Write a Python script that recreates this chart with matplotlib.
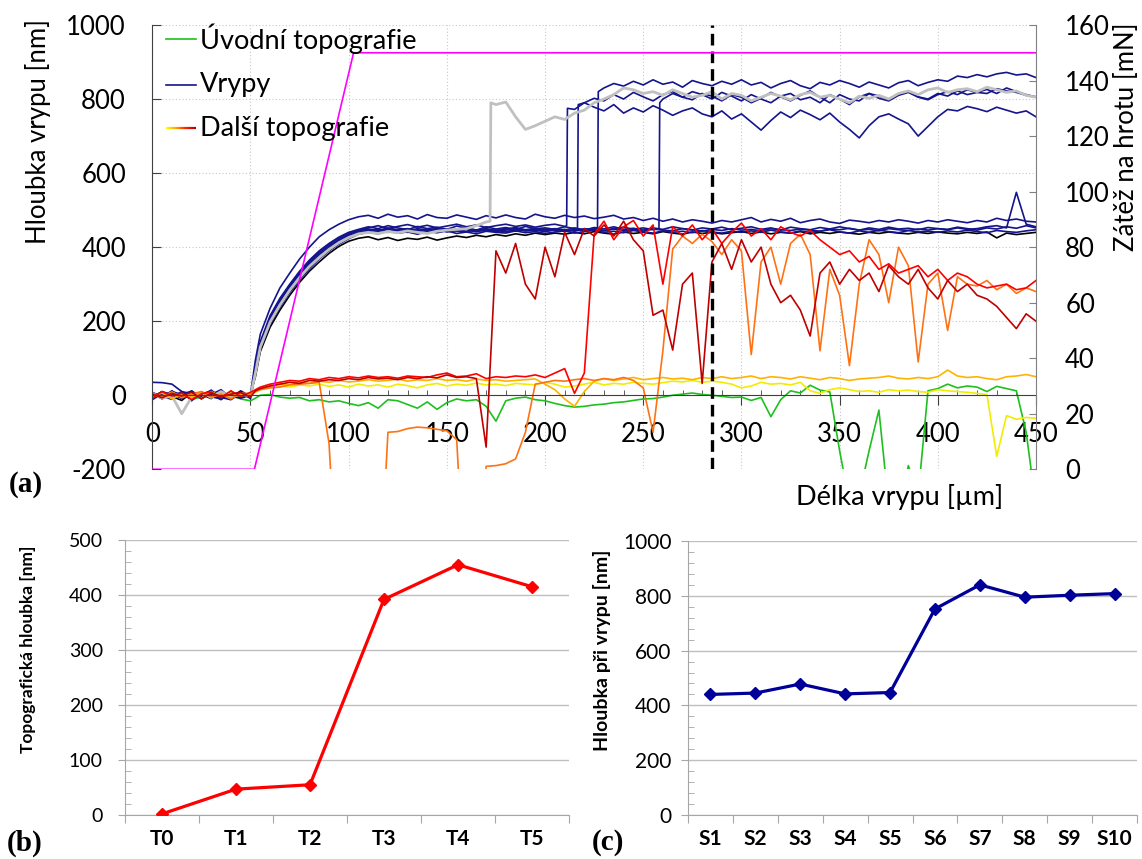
import numpy as np
import matplotlib
matplotlib.use("Agg")
import matplotlib.pyplot as plt
from matplotlib.collections import LineCollection
from matplotlib.colors import LinearSegmentedColormap
from matplotlib.ticker import MultipleLocator

plt.rcParams['font.family'] = ['Lato', 'DejaVu Sans']
plt.rcParams['axes.unicode_minus'] = False

# ---------------- DATA: panel (a) ----------------
# sample positions along the scratch [um]
X_GRID = np.r_[0, 5, 10, 15, 20, 25, 30, 35, 40, 45, 50, 52.5, np.arange(55, 451, 5)]

# tip load [mN]
load_x = [0, 52, 102.5, 450]
load_mN = [0, 0, 150, 150]
marker_x = 285  # dashed vertical line

# scratches that stay shallow
vryp_B1 = [35, 34, 30, 10, 4, -8, 5, -10, 9, -5, 2,
           95,
           165, 235, 290, 330, 368, 400, 428, 447, 462, 474, 482,
           486, 478, 489, 481, 485, 476, 488, 480, 478, 487, 481, 475, 485, 479, 487, 480, 476, 489, 482,
           478, 486, 480, 484, 477, 481, 486, 476, 480, 472, 478, 470, 476, 468, 474, 470, 465, 472, 468, 474,
           480, 468, 475, 470, 478, 466, 472, 476, 468, 464, 473, 470, 466, 472, 468, 474, 470, 465, 472, 468,
           474, 470, 466, 472, 468, 478, 472, 476, 470, 468]
vryp_B2 = [5, -10, 8, -3, 12, -6, 2, 15, -8, 6, -2,
           70,
           145, 215, 262, 300, 335, 365, 390, 410, 427, 440, 448,
           455, 450, 458, 452, 447, 456, 450, 454, 448, 457, 451, 446, 455, 449, 453, 447, 456, 450, 452,
           448, 455, 450, 446, 453, 449, 455, 448, 451, 446, 452, 448, 455, 450, 446, 452, 449, 454, 447, 451,
           455, 448, 452, 446, 454, 450, 447, 453, 449, 455, 450, 446, 452, 448, 454, 449, 451, 447, 453, 450,
           448, 454, 450, 446, 452, 449, 455, 451, 458, 452]
vryp_B3 = [-12, 4, -6, 10, -15, 8, -4, -10, 5, -8, 0,
           55,
           125, 192, 238, 278, 312, 342, 368, 390, 408, 423, 435,
           440, 436, 443, 438, 441, 435, 442, 439, 444, 437, 441, 436, 443, 440, 438, 444, 439, 442, 437,
           441, 444, 438, 442, 446, 440, 443, 439, 445, 441, 438, 444, 440, 443, 439, 445, 441, 438, 443, 440,
           444, 440, 446, 441, 438, 444, 440, 443, 447, 441, 438, 444, 440, 446, 442, 439, 445, 441, 443, 440,
           444, 441, 446, 442, 439, 445, 442, 440, 444, 447]
vryp_B4 = [8, -5, 12, -9, 4, -2, 14, -6, -12, 10, -4,
           60,
           130, 200, 245, 285, 320, 350, 374, 396, 413, 428, 438,
           444, 448, 441, 446, 450, 443, 447, 442, 449, 444, 447, 441, 448, 445, 450, 443, 447, 444, 449,
           445, 448, 443, 450, 446, 444, 449, 445, 447, 443, 449, 446, 444, 450, 447, 443, 448, 445, 450, 446,
           448, 444, 450, 447, 445, 449, 446, 443, 449, 447, 451, 446, 448, 444, 450, 447, 445, 449, 446, 450,
           447, 452, 448, 450, 455, 458, 452, 548, 462, 455]
vryp_black = [-6, 10, -3, -14, 7, 2, -9, 12, -4, -7, 3,
              50,
              118, 184, 230, 270, 305, 335, 360, 383, 402, 416, 424,
              428, 420, 426, 418, 424, 421, 427, 419, 425, 430, 426, 432, 428, 434, 430, 436, 432, 438, 434,
              438, 435, 440, 436, 442, 438, 435, 441, 437, 440, 436, 442, 438, 435, 441, 437, 440, 436, 439, 442,
              437, 441, 436, 440, 438, 442, 436, 440, 437, 441, 438, 435, 440, 437, 441, 438, 436, 440, 437, 441,
              438, 436, 440, 437, 441, 425, 438, 434, 437, 440]

# scratches that break through (jump = position, depth before, depth after)
vryp_J1 = [4, -8, 10, 2, -6, 9, -3, 6, -11, 3, -6,
           65,
           140, 210, 258, 296, 332, 362, 388, 408, 425, 438, 446,
           452, 458, 450, 456, 461, 454, 459, 452, 457, 462, 455, 460, 453, 458, 462, 456, 460, 454, 459,
           462, 456, 772, 790, 778, 768, 785, 762, 776, 765, 782, 770, 756, 768, 776, 760, 752, 768, 746, 760,
           738, 716, 742, 765, 750, 770, 758, 744, 762, 738, 718, 695, 728, 752, 760, 746, 733, 700, 726, 752,
           772, 768, 780, 774, 766, 778, 770, 762, 768, 752]
jump_J1 = (211, 458, 775)
vryp_J2 = [-2, 7, -9, 4, 10, -5, 3, -12, 7, -4, 5,
           58,
           128, 196, 242, 282, 316, 346, 371, 393, 411, 426, 437,
           442, 447, 440, 445, 449, 443, 446, 440, 448, 444, 441, 447, 443, 446, 441, 448, 444, 446, 442,
           447, 443, 446, 790, 802, 795, 812, 800, 818, 806, 795, 812, 820, 805, 798, 815, 808, 795, 812, 805,
           790, 802, 818, 806, 795, 810, 822, 805, 790, 812, 800, 795, 815, 808, 798, 812, 820, 806, 800, 815,
           808, 822, 812, 818, 826, 815, 830, 820, 812, 806]
jump_J2 = (216.5, 446, 785)
vryp_J3 = [6, -3, -11, 8, -5, 4, 11, -7, 2, 8, -9,
           62,
           135, 205, 250, 290, 325, 355, 380, 400, 418, 432, 441,
           446, 442, 449, 444, 440, 447, 443, 448, 441, 445, 449, 443, 447, 442, 446, 450, 444, 448, 443,
           447, 442, 448, 444, 447, 830, 842, 835, 848, 838, 852, 840, 846, 832, 850, 842, 836, 848, 840, 852,
           838, 845, 830, 842, 850, 836, 828, 845, 838, 850, 842, 832, 846, 838, 830, 844, 850, 836, 845, 852,
           848, 862, 858, 866, 860, 868, 872, 865, 868, 858]
jump_J3 = (226.7, 446, 820)
vryp_J4 = [-4, 9, 3, -8, 6, -10, 7, 1, -6, 12, -3,
           68,
           140, 208, 255, 292, 328, 358, 384, 404, 421, 435, 444,
           449, 445, 452, 447, 443, 450, 446, 451, 444, 448, 452, 446, 450, 445, 449, 453, 447, 451, 446,
           450, 446, 452, 447, 451, 445, 450, 454, 448, 452, 447, 800, 815, 805, 820, 812, 800, 818, 808, 795,
           812, 800, 790, 808, 815, 798, 805, 790, 812, 800, 785, 806, 815, 802, 795, 810, 818, 805, 798, 812,
           820, 812, 825, 818, 815, 828, 822, 818, 810, 805]
jump_J4 = (258, 450, 790)
vryp_grey = [5, -8, -2, -50, -5, 8, -6, 10, -4, 3, -2,
             60,
             130, 198, 244, 284, 318, 348, 372, 394, 412, 426, 436,
             440, 437, 442, 439, 444, 440, 437, 443, 446, 448, 450, 458, 468, 785, 792, 752, 718, 728, 740,
             752, 745, 762, 770, 790, 800, 812, 830, 825, 815, 820, 810, 825, 815, 805, 810, 820, 800, 815, 810,
             795, 805, 815, 808, 798, 812, 818, 805, 810, 800, 790, 808, 802, 810, 800, 815, 822, 812, 825, 830,
             818, 825, 828, 820, 832, 825, 818, 822, 810, 805]
jump_grey = (172, 470, 790)

# initial topography
topo_initial = [-5, 3, -8, 6, -12, -4, 8, -6, 2, -10, -15,
                -8,
                0, 2, -5, -8, -6, -15, -12, -18, -15, -22, -28,
                -20, -35, -12, -15, -25, -35, -18, -38, -20, -10, -15, -12, -30, -70, -15, -8, -5, -12, -15,
                -22, -28, -32, -30, -26, -24, -20, -18, -14, -10, -9, -5, 0, 3, 6, 2, 0, -3, -6, -5,
                -14, -6, -58, -12, 12, 6, 27, 14, 9, -150, -290, -270, -150, -40, -300, -310, -190, -270, 12, 18,
                30, 20, 25, 22, 10, 24, 18, 12, -100, -300]

# further topographies (yellow -> dark red)
topo_1 = [0, -5, 8, -3, 5, -8, 10, -4, 6, -2, 5,
          8,
          15, 20, 25, 22, 28, 25, 30, 24, 28, 22, 30,
          25, 28, 22, 30, 26, 20, 28, 32, 25, 30, 27, 33, 28, 30, 26, 32, 30, 28, 35,
          30, 22, 25, 30, 35, 28, 32, 30, 35, 32, 30, 34, 38, 36, 40, 35, 38, 35, 30, 20,
          25, 35, 30, 32, 28, 35, 12, 5, 15, 20, 15, 10, 12, 8, 15, 12, 14, 10, 8, 15,
          12, 10, 8, 5, 2, -165, -55, -65, -60, -62]
topo_2 = [-3, 6, -10, 4, -6, 8, -2, 5, -8, 3, 0,
          12,
          18, 25, 30, 28, 35, 32, 38, 35, 40, 36, 38,
          42, 38, 40, 44, 38, 42, 40, 45, 40, 42, 38, 44, 40, 42, 38, 40, 42, 44, 30,
          15, -10, -30, 10, 38, 45, 40, 44, 48, 42, 45, 48, 44, 46, 42, 48, 45, 50, 45, 48,
          52, 45, 50, 48, 44, 50, 46, 42, 48, 45, 40, 44, 46, 48, 52, 46, 44, 48, 45, 50,
          68, 52, 48, 50, 45, 42, 50, 52, 56, 50]
topo_3 = [5, -4, 9, -7, 3, 10, -5, 2, -10, 6, 4,
          10,
          15, 20, 22, 28, 30, 32, 35, -130, -600, -600, -600,
          -600, -600, -100, -98, -90, -86, -88, -92, -96, -120, -600, -600, -192, -190, -185, -172, -100, 30, 35,
          40, 38, 42, 45, 40, 45, 42, 48, 40, 20, -100, 120, 395, 430, 410, 435, 415, 380, 420, 390,
          110, 360, 400, 300, 410, 435, 380, 120, 340, 270, 80, 300, 420, 380, 250, 400, 350, 90, 300, 330,
          175, 320, 300, 295, 310, 285, 300, 275, 290, 280]
topo_4 = [-8, 10, -2, 6, -12, 4, 9, -6, 12, -3, 8,
          15,
          22, 30, 35, 40, 38, 45, 42, 48, 45, 50, 47,
          52, 48, 50, 46, 52, 50, 48, 55, 60, 50, 52, 58, 45, 50, 48, 52, 50, 55, 48,
          60, 72, 5, 60, 435, 470, 420, 455, 472, 430, 460, 300, 455, 430, 460, 420, 450, 410, 440, 465,
          430, 450, 420, 455, 440, 430, 445, 420, 400, 380, 390, 360, 375, 340, 355, 330, 340, 350, 320, 340,
          310, 330, 320, 300, 290, 295, 300, 285, 290, 310]
topo_5 = [3, -7, 5, -2, 8, -9, 6, -4, 3, 7, -5,
          12,
          18, 25, 30, 35, 32, 40, 38, 42, 40, 45, 42,
          48, 44, 46, 42, 48, 45, 50, 47, 55, 48, 50, 45, -140, 390, 330, 410, 300, 260, 400,
          320, 440, 380, 450, 430, 460, 430, 470, 420, 390, 216, 230, 122, 300, 330, 32, 360, 410, 340, 420,
          360, 400, 300, 250, 270, 230, 160, 330, 360, 300, 340, 310, 330, 280, 350, 320, 300, 340, 290, 260,
          310, 280, 300, 270, 260, 240, 210, 180, 220, 200]

# ---------------- DATA: panels (b), (c) ----------------
t_labels = ['T0', 'T1', 'T2', 'T3', 'T4', 'T5']
t_depth = [2, 47, 55, 392, 455, 415]
s_labels = ['S1', 'S2', 'S3', 'S4', 'S5', 'S6', 'S7', 'S8', 'S9', 'S10']
s_depth = [440, 445, 478, 442, 447, 752, 840, 795, 802, 808]

# ---------------- helpers ----------------
def series(y, jump=None):
    x = np.asarray(X_GRID, float)
    y = np.asarray(y, float)
    assert len(x) == len(y), (len(x), len(y))
    if jump is None:
        return x, y
    jx, y0, y1 = jump
    before = x < jx
    after = x > jx + 0.4
    return (np.concatenate([x[before], [jx, jx + 0.4], x[after]]),
            np.concatenate([y[before], [y0, y1], y[after]]))

W, H = 1142, 859
fig = plt.figure(figsize=(W / 100, H / 100), dpi=100)

def px_rect(l, t, r, b):
    return [l / W, 1 - b / H, (r - l) / W, (b - t) / H]

# ---------------- panel (a) ----------------
ax = fig.add_axes(px_rect(152.3, 25, 1036, 469.3))
ax.set_xlim(0, 450)
ax.set_ylim(-200, 1000)

NAVY = '#14148C'
GREEN = '#1EC01E'
warm = ['#F2EC00', '#FFB300', '#FF7214', '#FF0000', '#C00000']

ax.plot(*series(topo_initial), color=GREEN, lw=1.2, zorder=2)
ax.plot(*series(vryp_black), color='black', lw=1.2, zorder=2)
for y, j in [(vryp_B1, None), (vryp_B2, None), (vryp_B3, None), (vryp_B4, None),
             (vryp_J1, jump_J1), (vryp_J2, jump_J2), (vryp_J3, jump_J3), (vryp_J4, jump_J4)]:
    ax.plot(*series(y, j), color=NAVY, lw=1.2, zorder=2)
ax.plot(*series(vryp_grey, jump_grey), color='#C0C0C0', lw=2.0, zorder=2)
for y, c in zip([topo_1, topo_2, topo_3, topo_4, topo_5], warm):
    ax.plot(*series(y), color=c, lw=1.2, zorder=2)

ax.axvline(marker_x, color='black', lw=2.4, dashes=(3.5, 1.8), zorder=4)

for s in ['top', 'right']:
    ax.spines[s].set_visible(False)
ax.spines['bottom'].set_position(('data', 0))
ax.spines['bottom'].set_color('#404040')
ax.spines['left'].set_color('#404040')
ax.set_xticks(np.arange(0, 451, 50))
ax.xaxis.set_minor_locator(MultipleLocator(10))
ax.tick_params(axis='x', which='major', direction='out', length=7, color='#404040',
               labelsize=18.5, pad=12)
ax.tick_params(axis='x', which='minor', direction='in', length=3.5, color='#404040')
ax.set_yticks(np.arange(-200, 1001, 200))
ax.tick_params(axis='y', direction='in', length=6.5, color='#404040', labelsize=18.5, pad=19)
ax.grid(True, which='major', color='#C8C8C8', lw=0.8, linestyle=(0, (1, 2)))

ax2 = ax.twinx()
ax2.set_ylim(0, 160)
ax2.plot(load_x, load_mN, color='#FF00FF', lw=1.2, zorder=3)
for s in ['top', 'bottom', 'left']:
    ax2.spines[s].set_visible(False)
ax2.spines['right'].set_color('#808080')
ax2.set_yticks(np.arange(0, 161, 20))
ax2.tick_params(axis='y', direction='in', length=5, color='#808080', labelsize=18.5, pad=21)

# legend (drawn manually to get the gradient sample)
lx0, lx1, tx = 0.0155, 0.0495, 0.054
ly = [0.968, 0.865, 0.7675]
ax2.plot([lx0, lx1], [ly[0]] * 2, color=GREEN, lw=1.2, transform=ax2.transAxes)
ax2.plot([lx0, lx1], [ly[1]] * 2, color=NAVY, lw=1.2, transform=ax2.transAxes)
cmap = LinearSegmentedColormap.from_list('warm', ['#FFFF00', '#FFA500', '#FF2000', '#B00000'])
gx = np.linspace(lx0, lx1, 40)
segs = [[(gx[i], ly[2]), (gx[i + 1], ly[2])] for i in range(len(gx) - 1)]
lc = LineCollection(segs, colors=cmap(np.linspace(0, 1, len(segs))), lw=1.6,
                    transform=ax2.transAxes)
ax2.add_collection(lc)
for yy, t in zip(ly, ['Úvodní topografie', 'Vrypy', 'Další topografie']):
    ax2.text(tx, yy, t, transform=ax2.transAxes, fontsize=19.5, va='center', ha='left')

fig.text(38 / W, 1 - 131 / H, 'Hloubka vrypu [nm]', rotation=90, fontsize=18.5,
         ha='center', va='center')
fig.text(1127 / W, 1 - 137 / H, 'Zátěž na hrotu [mN]', rotation=90, fontsize=18.5,
         ha='center', va='center')
fig.text(900 / W, 1 - 497 / H, 'Délka vrypu [µm]', fontsize=19.5, ha='center', va='center')

serif = dict(family='Liberation Serif', fontweight='bold', fontsize=21, ha='center', va='center')
fig.text(26 / W, 1 - 484 / H, '(a)', **serif)
fig.text(25 / W, 1 - 843 / H, '(b)', **serif)
fig.text(608 / W, 1 - 843 / H, '(c)', **serif)

# ---------------- panels (b) and (c) ----------------
def cat_panel(axc, labels, values, color, ymax, ystep, yminor, ylab_size, ypad):
    n = len(labels)
    xs = np.arange(n)
    axc.plot(xs, values, color=color, lw=2.3, marker='D', ms=6.5, mfc=color, mec=color,
             zorder=3)
    axc.set_xlim(-0.5, n - 0.5)
    axc.set_ylim(0, ymax)
    axc.set_yticks(np.arange(0, ymax + 1, ystep))
    axc.yaxis.set_minor_locator(MultipleLocator(yminor))
    axc.set_xticks(np.arange(-0.5, n, 1.0))
    axc.set_xticklabels([])
    axc.set_xticks(xs, minor=True)
    axc.set_xticklabels(labels, minor=True, fontweight='bold', fontsize=15)
    axc.tick_params(axis='x', which='major', direction='out', length=6, color='#A6A6A6')
    axc.tick_params(axis='x', which='minor', length=0, pad=10)
    axc.tick_params(axis='y', which='major', direction='out', length=5, color='#A6A6A6',
                    labelsize=ylab_size, pad=ypad)
    axc.tick_params(axis='y', which='minor', direction='in', length=4, color='#A6A6A6')
    axc.yaxis.grid(True, which='major', color='#BFBFBF', lw=1.0)
    axc.set_axisbelow(True)
    for s in ['top', 'right']:
        axc.spines[s].set_visible(False)
    for s in ['left', 'bottom']:
        axc.spines[s].set_color('#A6A6A6')

axb = fig.add_axes(px_rect(125, 540, 569, 815))
cat_panel(axb, t_labels, t_depth, '#FF0000', 500, 100, 20, 14, 11)
axc = fig.add_axes(px_rect(688, 541, 1137, 815))
cat_panel(axc, s_labels, s_depth, '#000099', 1000, 200, 40, 15, 7)

fig.text(28 / W, 1 - 649 / H, 'Topografická hloubka [nm]', rotation=90, fontsize=12.5,
         fontweight='bold', ha='center', va='center')
fig.text(602 / W, 1 - 650 / H, 'Hloubka při vrypu [nm]', rotation=90, fontsize=14,
         fontweight='bold', ha='center', va='center')

fig.savefig('out.png', dpi=100, facecolor='white')
